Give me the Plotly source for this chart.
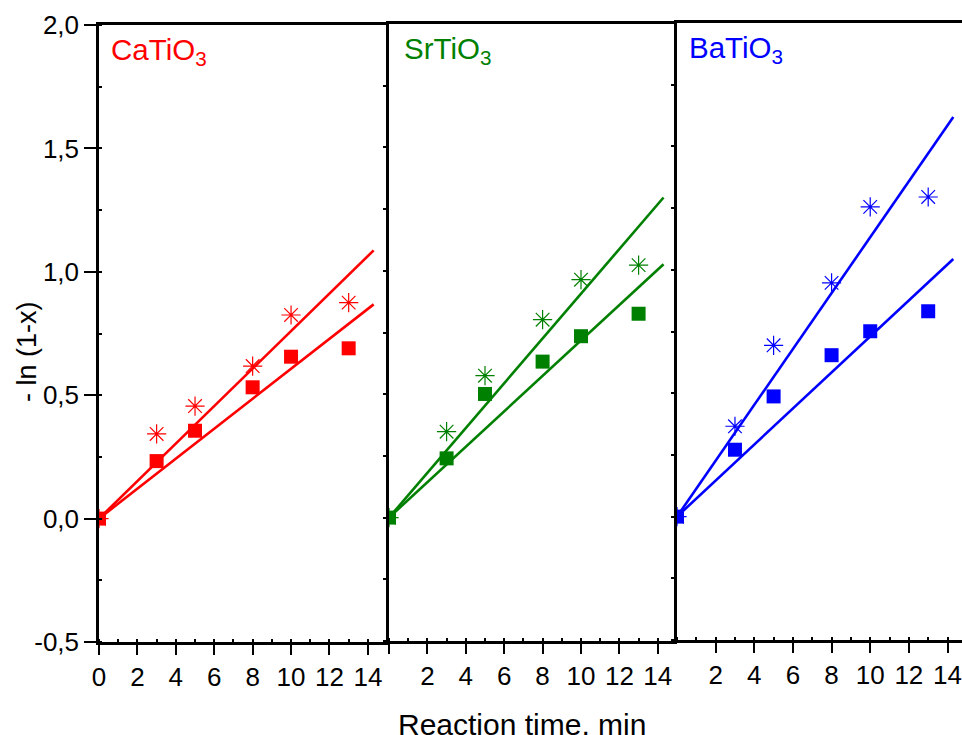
import plotly.graph_objects as go

# Reaction time (min) and -ln(1-x) for the three titanates
time_min = [0, 3, 5, 8, 10, 13]

ca_star = [0.0, 0.343, 0.456, 0.618, 0.825, 0.875]
ca_square = [0.0, 0.233, 0.356, 0.532, 0.656, 0.690]
sr_star = [0.0, 0.348, 0.575, 0.802, 0.964, 1.023]
sr_square = [0.0, 0.240, 0.501, 0.632, 0.735, 0.826]
ba_star = [0.0, 0.366, 0.694, 0.947, 1.255, 1.295]
ba_square = [0.0, 0.271, 0.487, 0.654, 0.751, 0.832]

# Linear fits through the origin: slopes (star series, square series)
ca_slopes = [0.0760, 0.0607]
sr_slopes = [0.0907, 0.0718]
ba_slopes = [0.1132, 0.0730]
fit_x = [0, 14.3]

y_tickvals = [-0.5, 0.0, 0.5, 1.0, 1.5, 2.0]
y_ticktext = ["-0,5", "0,0", "0,5", "1,0", "1,5", "2,0"]

names = ["CaTiO<sub>3</sub>", "SrTiO<sub>3</sub>", "BaTiO<sub>3</sub>"]
colors = ["#FF0000", "#008000", "#0000FF"]
stars = [ca_star, sr_star, ba_star]
squares = [ca_square, sr_square, ba_square]
slopes = [ca_slopes, sr_slopes, ba_slopes]

FONT = "Liberation Sans, Arial, sans-serif"
W, H = 962, 735
ML, MR, MT, MB = 99, 0, 22, 93
pw = W - ML - MR
ph = H - MT - MB
edges_px = [99, 389, 677, 962]
domains = [[(edges_px[i] - ML) / pw, (edges_px[i + 1] - ML) / pw] for i in range(3)]
x_ranges = [[0, 15.1], [0, 15.0], [0, 14.75]]
# each panel sits a pixel higher than the one before it
panel_top_px = [25, 24, 23]
panel_h_px = 617
y_domains = [[(H - MB - (t + panel_h_px)) / ph, (H - MB - t) / ph] for t in panel_top_px]

fig = go.Figure()

for i in range(3):
    xa = "x" if i == 0 else f"x{i + 1}"
    ya = "y" if i == 0 else f"y{i + 1}"
    c = colors[i]
    for s in slopes[i]:
        fig.add_trace(go.Scatter(
            x=fit_x, y=[s * v for v in fit_x], mode="lines",
            line=dict(color=c, width=2.6), xaxis=xa, yaxis=ya, showlegend=False))
    fig.add_trace(go.Scatter(
        x=time_min, y=stars[i], mode="markers",
        marker=dict(symbol="asterisk-open", size=16, color=c,
                    line=dict(color=c, width=1.2)),
        xaxis=xa, yaxis=ya, showlegend=False))
    fig.add_trace(go.Scatter(
        x=time_min, y=squares[i], mode="markers",
        marker=dict(symbol="square", size=14, color=c, line=dict(width=0)),
        xaxis=xa, yaxis=ya, showlegend=False))

    fig.add_annotation(
        x=[0.5, 0.66, 0.52][i], y=1.975, xref=xa, yref=ya,
        text=names[i], showarrow=False, xanchor="left", yanchor="top",
        font=dict(family=FONT, size=29.5, color=c))

tick_font = dict(family=FONT, size=26, color="black")
axis_common = dict(showline=True, linecolor="black", linewidth=2.5,
                   showgrid=False, zeroline=False, tickcolor="black",
                   tickfont=tick_font)

layout = dict()
for i in range(3):
    xkey = "xaxis" if i == 0 else f"xaxis{i + 1}"
    ykey = "yaxis" if i == 0 else f"yaxis{i + 1}"
    xa_anchor = "y" if i == 0 else f"y{i + 1}"
    ya_anchor = "x" if i == 0 else f"x{i + 1}"
    if i == 0:
        tv = list(range(0, 15, 2))
        tt = [str(v) for v in tv]
    elif i == 1:
        tv = list(range(0, 15, 2))
        tt = [""] + [str(v) for v in tv[1:]]
    else:
        tv = list(range(2, 15, 2))
        tt = [str(v) for v in tv]
    layout[xkey] = dict(
        axis_common, domain=domains[i], range=x_ranges[i], anchor=xa_anchor,
        mirror=True, ticks="outside", ticklen=10, tickwidth=2,
        tickmode="array", tickvals=tv, ticktext=tt,
        minor=dict(ticks="inside", ticklen=3, tickwidth=1.5, dtick=1,
                   tick0=1, tickcolor="black", showgrid=False))
    if i == 0:
        layout[ykey] = dict(
            axis_common, domain=y_domains[i], range=[-0.5, 2.0],
            anchor=ya_anchor, mirror=False,
            ticks="outside", ticklen=12, tickwidth=2,
            tickmode="array", tickvals=y_tickvals, ticktext=y_ticktext,
            minor=dict(ticks="inside", ticklen=3, tickwidth=1.5, dtick=0.25,
                       tickcolor="black", showgrid=False))
    else:
        layout[ykey] = dict(
            axis_common, domain=y_domains[i], range=[-0.5, 2.0],
            anchor=ya_anchor, mirror=False,
            ticks="outside", ticklen=3, tickwidth=1.5, dtick=0.25, tick0=0,
            showticklabels=False)

fig.update_layout(**layout)

# Shared axis titles
fig.add_annotation(
    x=(27 - ML) / pw, y=(H - MB - 352) / ph, xref="paper", yref="paper",
    text="- ln (1-x)", textangle=-90, showarrow=False,
    xanchor="center", yanchor="middle",
    font=dict(family=FONT, size=27, color="black"))
fig.add_annotation(
    x=(522 - ML) / pw, y=(H - MB - 706) / ph, xref="paper", yref="paper",
    text="Reaction time, min", showarrow=False, xanchor="center", yanchor="top",
    font=dict(family=FONT, size=30, color="black"))

fig.update_layout(
    width=W, height=H,
    margin=dict(l=ML, r=MR, t=MT, b=MB),
    paper_bgcolor="white", plot_bgcolor="white",
    showlegend=False,
)

fig.write_html("out.html")
